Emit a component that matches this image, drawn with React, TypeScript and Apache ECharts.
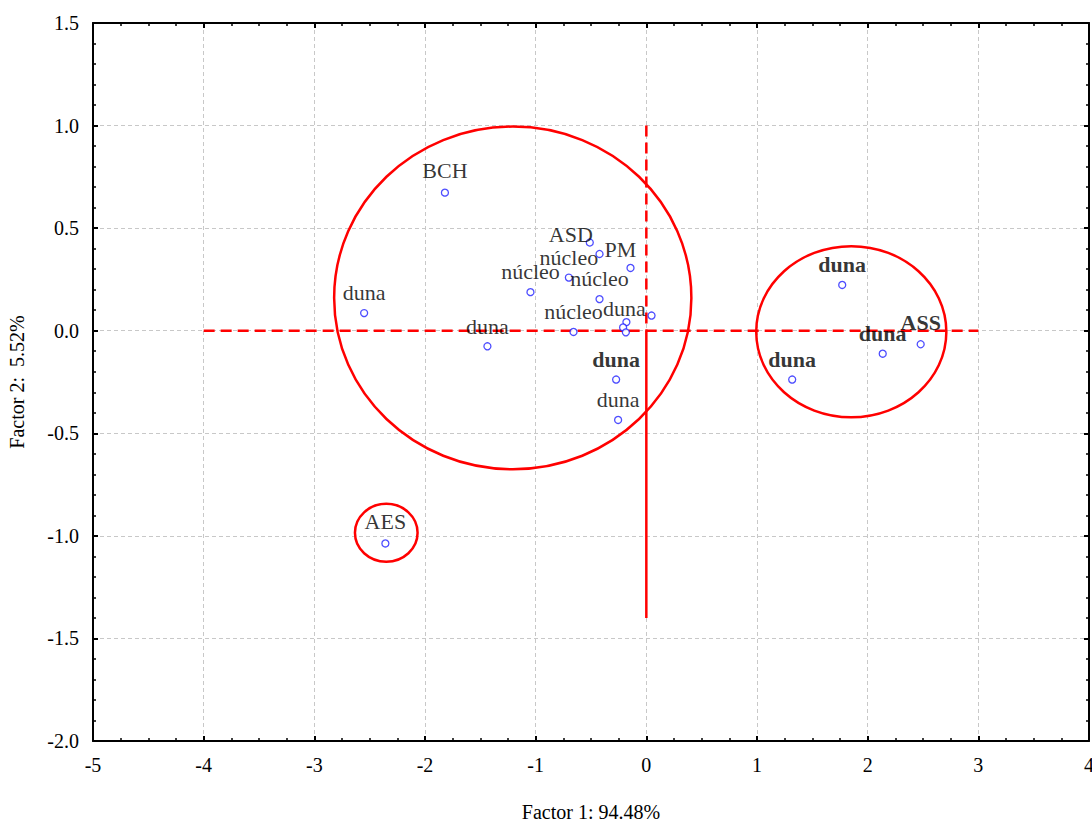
import React, { useEffect, useRef } from "react";
import * as echarts from "echarts";

// ---- data ----
const pointX = [-1.82, -0.511, -0.423, -0.143, -0.70, -1.047, -0.423, -2.55, 0.047, -0.18, -0.21, -0.185, -0.658, -1.436, -0.273, -0.255, 1.77, 2.136, 2.479, 1.318, -2.358];
const pointY = [0.673, 0.43, 0.374, 0.306, 0.259, 0.188, 0.154, 0.086, 0.074, 0.042, 0.016, -0.008, -0.006, -0.076, -0.238, -0.435, 0.223, -0.112, -0.066, -0.238, -1.037];
const pointNames = ["BCH", "ASD", "", "PM", "núcleo", "núcleo", "núcleo", "duna", "", "duna", "", "", "núcleo", "duna", "duna", "duna", "duna", "duna", "ASS", "duna", "AES"];
const boldLabels = [false, false, false, false, false, false, false, false, false, false, false, false, false, false, true, false, true, true, true, true, false];

// ellipses: centre x, centre y, radius x, radius y (data units)
const ellipseCx = [-1.207, 1.852, -2.35];
const ellipseCy = [0.16, -0.005, -0.985];
const ellipseRx = [1.614, 0.859, 0.283];
const ellipseRy = [0.835, 0.417, 0.141];

const hLineX = [-4, 3];
const vDashY = [1.0, 0.0];
const vSolidY = [0.0, -1.4];

const xTitle = "Factor 1: 94.48%";
const yTitle = "Factor 2:  5.52%";

// label nudges (styling only)
const labelOffsets: Record<number, [number, number]> = {
  0: [0, -2],
  1: [-19, 12],
  3: [-10, 2],
  9: [-2, 7],
  18: [0, -2],
  20: [0, -2],
};

const FONT = "'Liberation Serif', 'Times New Roman', serif";

export default function App() {
  const ref = useRef<HTMLDivElement>(null);
  useEffect(() => {
    if (!ref.current) return;
    const chart = echarts.init(ref.current, null, { renderer: "svg" });
    const pts = pointX.map((x, i) => ({
      value: [x, pointY[i]],
      name: pointNames[i],
      label: {
        show: pointNames[i] !== "",
        offset: labelOffsets[i] || [0, 0],
        fontWeight: boldLabels[i] ? "bold" : "normal",
      },
    }));
    const ell = ellipseCx.map((cx, i) => [cx, ellipseCy[i], ellipseRx[i], ellipseRy[i]]);
    const axisCommon = {
      axisLine: { show: true, onZero: false, lineStyle: { color: "#000", width: 2 } },
      axisTick: { show: true, inside: true, length: 5, lineStyle: { color: "#000", width: 2 } },
      minorTick: { show: true, length: 3, lineStyle: { color: "#000", width: 1.5 } },
    };
    const option: any = {
      animation: false,
      grid: { left: 93, top: 23, right: 3, bottom: 81, containLabel: false, outerBoundsMode: "none" },
      xAxis: [
        {
          ...axisCommon,
          type: "value",
          position: "bottom",
          min: -5,
          max: 4,
          interval: 1,
          minorTick: { ...axisCommon.minorTick, splitNumber: 4 },
          axisLabel: { color: "#000", fontFamily: FONT, fontSize: 20, margin: 14 },
          splitLine: { show: true, lineStyle: { color: "#c8c8c8", type: [4, 3], width: 1 } },
          name: xTitle,
          nameLocation: "middle",
          nameGap: 61,
          nameTextStyle: { color: "#000", fontFamily: FONT, fontSize: 20 },
        },
        {
          ...axisCommon,
          type: "value",
          position: "top",
          min: -5,
          max: 4,
          interval: 1,
          minorTick: { ...axisCommon.minorTick, splitNumber: 4 },
          axisLabel: { show: false },
          splitLine: { show: false },
        },
      ],
      yAxis: [
        {
          ...axisCommon,
          type: "value",
          position: "left",
          min: -2,
          max: 1.5,
          interval: 0.5,
          minorTick: { ...axisCommon.minorTick, splitNumber: 5 },
          axisLabel: {
            color: "#000",
            fontFamily: FONT,
            fontSize: 20,
            margin: 14,
            formatter: (v: number) => v.toFixed(1),
          },
          splitLine: { show: true, lineStyle: { color: "#c8c8c8", type: [4, 3], width: 1 } },
          name: yTitle,
          nameLocation: "middle",
          nameGap: 66,
          nameTextStyle: { color: "#000", fontFamily: FONT, fontSize: 20 },
        },
        {
          ...axisCommon,
          type: "value",
          position: "right",
          min: -2,
          max: 1.5,
          interval: 0.5,
          minorTick: { ...axisCommon.minorTick, splitNumber: 5 },
          axisLabel: { show: false },
          splitLine: { show: false },
        },
      ],
      series: [
        {
          type: "line",
          data: hLineX.map((x) => [x, 0]),
          symbol: "none",
          lineStyle: { color: "#ff0000", width: 2.5, type: [11, 6] },
          z: 3,
          silent: true,
        },
        {
          type: "line",
          data: vDashY.map((y) => [0, y]),
          symbol: "none",
          lineStyle: { color: "#ff0000", width: 2.5, type: [11, 6] },
          z: 3,
          silent: true,
        },
        {
          type: "line",
          data: vSolidY.map((y) => [0, y]),
          symbol: "none",
          lineStyle: { color: "#ff0000", width: 2.5, type: "solid" },
          z: 3,
          silent: true,
        },
        {
          type: "custom",
          data: ell,
          encode: { x: 0, y: 1 },
          clip: false,
          z: 3,
          silent: true,
          renderItem: (params: any, api: any) => {
            const c = api.coord([api.value(0), api.value(1)]);
            const s = api.size([api.value(2), api.value(3)]);
            return {
              type: "ellipse",
              shape: { cx: c[0], cy: c[1], rx: s[0], ry: s[1] },
              style: { fill: "none", stroke: "#ff0000", lineWidth: 2.5 },
            };
          },
        },
        {
          type: "scatter",
          data: pts,
          symbol: "circle",
          symbolSize: 7,
          itemStyle: { color: "#ffffff", borderColor: "#2020ff", borderWidth: 1.3 },
          z: 5,
          label: {
            show: true,
            position: "top",
            distance: 5,
            formatter: (p: any) => p.name,
            color: "#000",
            fontFamily: FONT,
            fontSize: 22,
          },
        },
      ],
    };
    chart.setOption(option);
    return () => chart.dispose();
  }, []);
  return (
    <div
      ref={ref}
      style={{ position: "fixed", left: 0, top: 0, width: 1092, height: 822, background: "#fff" }}
    />
  );
}
